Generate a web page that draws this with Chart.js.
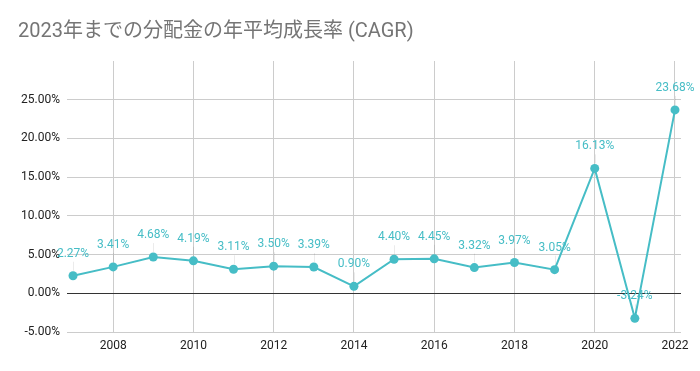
<!DOCTYPE html>
<html>
<head>
<meta charset="utf-8">
<script src="https://cdn.jsdelivr.net/npm/chart.js@4"></script>
<style>
  html, body { margin:0; padding:0; background:#fff; }
  #wrap { width:700px; height:371px; }
</style>
</head>
<body>
<div id="wrap"><canvas id="chart" width="700" height="371"></canvas></div>
<script>
const titleText = '2023年までの分配金の年平均成長率 (CAGR)';
const years = [2007, 2008, 2009, 2010, 2011, 2012, 2013, 2014, 2015, 2016, 2017, 2018, 2019, 2020, 2021, 2022];
const cagr = [2.27, 3.41, 4.68, 4.19, 3.11, 3.50, 3.39, 0.90, 4.40, 4.45, 3.32, 3.97, 3.05, 16.13, -3.24, 23.68];
const xTicks = [2008, 2010, 2012, 2014, 2016, 2018, 2020, 2022];
const yTicks = [-5, 0, 5, 10, 15, 20, 25, 30];

const teal = '#46bdc6';
const fontFam = "Roboto, 'Noto Sans CJK JP', sans-serif";

// value labels above each point, with a faint leader line
const valueLabels = {
    id: 'valueLabels',
    afterDatasetsDraw(chart){
        const ctx = chart.ctx;
        const meta = chart.getDatasetMeta(0);
        ctx.save();
        ctx.font = '12px ' + fontFam;
        ctx.textAlign = 'center';
        ctx.textBaseline = 'middle';
        meta.data.forEach((pt, i) => {
            const ly = pt.y - 22;
            ctx.strokeStyle = 'rgba(0,0,0,0.08)';
            ctx.lineWidth = 1;
            ctx.beginPath();
            ctx.moveTo(Math.round(pt.x) + 0.5, ly + 8);
            ctx.lineTo(Math.round(pt.x) + 0.5, pt.y - 5);
            ctx.stroke();
            ctx.fillStyle = teal;
            ctx.fillText(cagr[i].toFixed(2) + '%', pt.x, ly);
        });
        ctx.restore();
    }
};

new Chart(document.getElementById('chart'), {
    type: 'line',
    data: {
        datasets: [{
            data: years.map((y, i) => ({ x: y, y: cagr[i] })),
            borderColor: teal,
            backgroundColor: teal,
            borderWidth: 2,
            pointRadius: 4.5,
            pointBorderWidth: 0,
            pointBackgroundColor: teal,
            tension: 0,
            clip: false
        }]
    },
    options: {
        responsive: false,
        animation: false,
        layout: { padding: { left: 18, right: 19, top: 0, bottom: 0 } },
        plugins: {
            legend: { display: false },
            tooltip: { enabled: false },
            title: {
                display: true,
                text: titleText,
                align: 'start',
                color: '#757575',
                font: { family: fontFam, size: 20, weight: 'normal' },
                padding: { top: 20, bottom: 17 }
            }
        },
        scales: {
            x: {
                type: 'linear',
                min: 2006.85,
                max: 2022.15,
                afterBuildTicks: (s) => { s.ticks = xTicks.map(v => ({ value: v })); },
                afterFit: (s) => { s.height = 39; },
                border: { display: false },
                grid: { color: '#cccccc', drawTicks: false },
                ticks: {
                    color: '#222222',
                    padding: 7,
                    font: { family: fontFam, size: 12 },
                    callback: (v) => String(v)
                }
            },
            y: {
                min: -5,
                max: 30,
                afterBuildTicks: (s) => { s.ticks = yTicks.map(v => ({ value: v })); },
                afterFit: (s) => { s.width = 49; },
                border: { display: false },
                grid: {
                    drawTicks: false,
                    color: (c) => c.tick.value === 0 ? '#333333' : (c.tick.value === 30 ? 'rgba(0,0,0,0)' : '#cccccc')
                },
                ticks: {
                    color: '#222222',
                    padding: 7,
                    font: { family: fontFam, size: 12 },
                    callback: (v) => v === 30 ? '' : v.toFixed(2) + '%'
                }
            }
        }
    },
    plugins: [valueLabels]
});
</script>
</body>
</html>
